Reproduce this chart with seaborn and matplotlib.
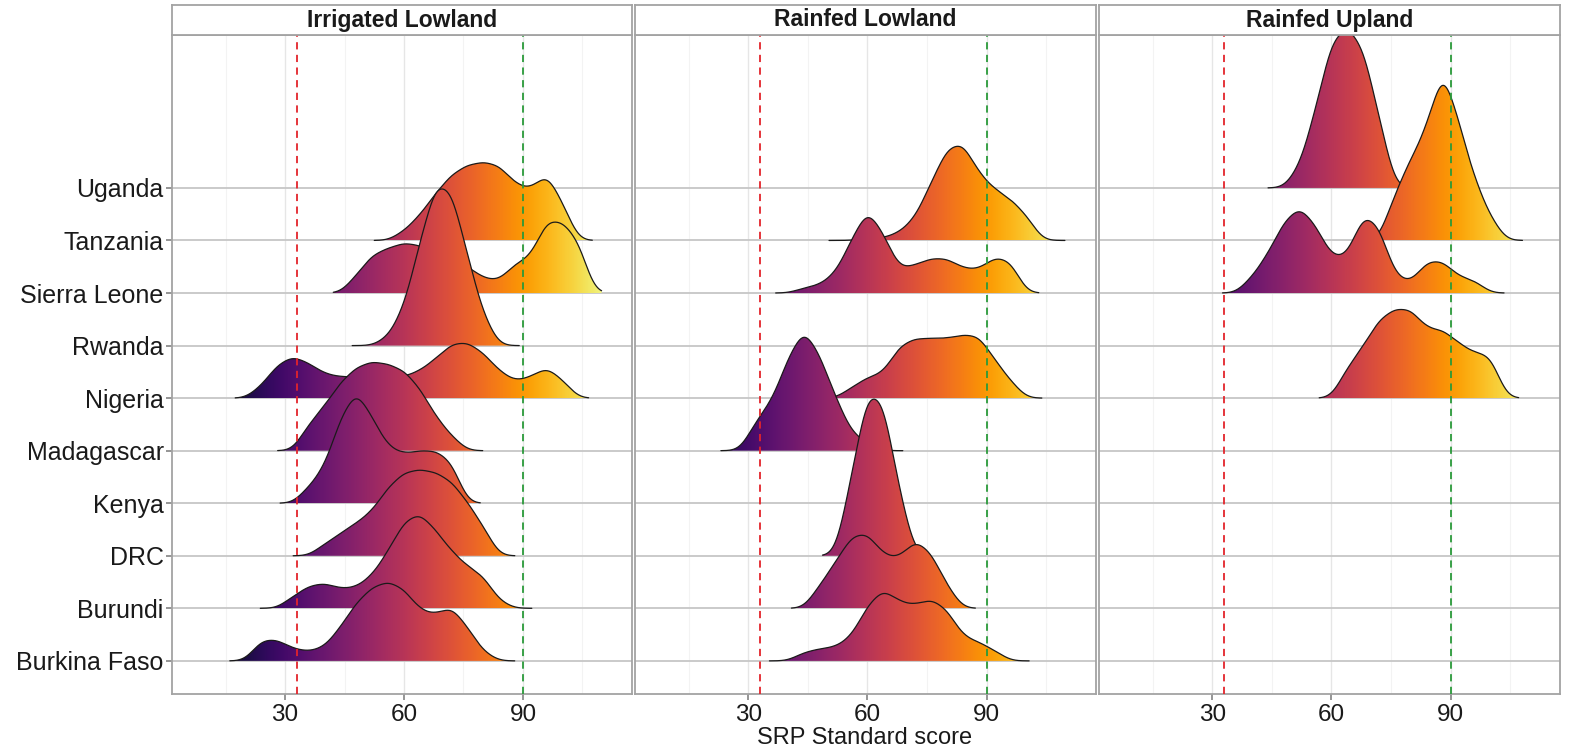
import numpy as np
import matplotlib
matplotlib.use('Agg')
import matplotlib.pyplot as plt
from matplotlib.colors import Normalize
import seaborn as sns

sns.set_theme(style='white')
plt.rcParams['font.family'] = ['Liberation Sans', 'DejaVu Sans']

# countries, bottom to top
countries = ['Burkina Faso', 'Burundi', 'DRC', 'Kenya', 'Madagascar',
             'Nigeria', 'Rwanda', 'Sierra Leone', 'Tanzania', 'Uganda']
panels = ['Irrigated Lowland', 'Rainfed Lowland', 'Rainfed Upland']

# SRP scores (binned) and counts read off the ridges
# --- Irrigated Lowland
il_tanzania_scores = [60, 64, 68, 72, 76, 80, 84, 88, 92, 96, 100]
il_tanzania_counts = [6, 16, 30, 42, 48, 50, 48, 36, 32, 44, 24]
il_sierra_scores = [48, 52, 56, 60, 64, 68, 72, 76, 80, 84, 88, 92, 96, 100, 104]
il_sierra_counts = [12, 26, 30, 34, 32, 27, 23, 18, 10, 8, 20, 24, 50, 48, 36]
il_rwanda_scores = [56, 60, 64, 68, 72, 76, 80]
il_rwanda_counts = [5, 22, 60, 96, 92, 53, 18]
il_nigeria_scores = [24, 28, 32, 36, 40, 44, 48, 52, 56, 60, 64, 68, 72, 76, 80, 84, 88, 92, 96, 100]
il_nigeria_counts = [8, 22, 28, 23, 16, 14, 14, 14, 14, 14, 18, 26, 36, 37, 30, 18, 11, 14, 21, 12]
il_madagascar_scores = [36, 40, 44, 48, 52, 56, 60, 64, 68, 72]
il_madagascar_counts = [18, 30, 46, 56, 60, 58, 54, 42, 23, 10]
il_kenya_scores = [36, 40, 44, 48, 52, 56, 60, 64, 68, 72]
il_kenya_counts = [10, 22, 52, 70, 52, 34, 30, 32, 32, 26]
il_drc_scores = [40, 44, 48, 52, 56, 60, 64, 68, 72, 76, 80]
il_drc_counts = [8, 15, 22, 30, 46, 56, 58, 56, 50, 36, 20]
il_burundi_scores = [32, 36, 40, 44, 48, 52, 56, 60, 64, 68, 72, 76, 80, 84]
il_burundi_counts = [8, 15, 17, 13, 14, 22, 38, 58, 64, 52, 38, 28, 22, 5]
il_burkina_scores = [24, 28, 32, 36, 40, 44, 48, 52, 56, 60, 64, 68, 72, 76, 80]
il_burkina_counts = [14, 14, 8, 6, 9, 22, 38, 48, 52, 47, 33, 30, 36, 22, 6]

# --- Rainfed Lowland
rl_tanzania_scores = [60, 64, 68, 72, 76, 80, 84, 88, 92, 96, 100]
rl_tanzania_counts = [1.5, 1.5, 5, 14, 36, 58, 62, 42, 32, 26, 16]
rl_sierra_scores = [44, 48, 52, 56, 60, 64, 68, 72, 76, 80, 84, 88, 92, 96]
rl_sierra_counts = [3, 5, 12, 32, 52, 36, 14, 17, 21, 21, 15, 14, 22, 20]
rl_nigeria_scores = [56, 60, 64, 68, 72, 76, 80, 84, 88, 92, 96]
rl_nigeria_counts = [6, 12, 14, 30, 34, 34, 34, 36, 36, 22, 10]
rl_madagascar_scores = [32, 36, 40, 44, 48, 52, 56, 60]
rl_madagascar_counts = [17, 28, 52, 70, 54, 30, 10, 4]
rl_drc_scores = [56, 60, 64, 68]
rl_drc_counts = [44, 92, 87, 36]
rl_burundi_scores = [48, 52, 56, 60, 64, 68, 72, 76, 80]
rl_burundi_counts = [14, 28, 44, 46, 32, 30, 42, 34, 14]
rl_burkina_scores = [44, 48, 52, 56, 60, 64, 68, 72, 76, 80, 84, 88, 92]
rl_burkina_counts = [5, 7, 8, 14, 32, 42, 34, 32, 36, 30, 14, 11, 6]

# --- Rainfed Upland
ru_uganda_scores = [52, 56, 60, 64, 68, 72]
ru_uganda_counts = [12, 44, 84, 92, 80, 40]
ru_tanzania_scores = [76, 80, 84, 88, 92, 96, 100]
ru_tanzania_counts = [28, 48, 66, 104, 70, 36, 14]
ru_sierra_scores = [40, 44, 48, 52, 56, 60, 64, 68, 72, 76, 80, 84, 88, 92, 96]
ru_sierra_counts = [10, 24, 44, 54, 42, 22, 22, 50, 42, 10, 6, 20, 20, 10, 8]
ru_nigeria_scores = [64, 68, 72, 76, 80, 84, 88, 92, 96, 100]
ru_nigeria_counts = [18, 30, 46, 52, 52, 40, 40, 32, 26, 26]

ridges = {
    'Irrigated Lowland': [
        ('Tanzania', il_tanzania_scores, il_tanzania_counts),
        ('Sierra Leone', il_sierra_scores, il_sierra_counts),
        ('Rwanda', il_rwanda_scores, il_rwanda_counts),
        ('Nigeria', il_nigeria_scores, il_nigeria_counts),
        ('Madagascar', il_madagascar_scores, il_madagascar_counts),
        ('Kenya', il_kenya_scores, il_kenya_counts),
        ('DRC', il_drc_scores, il_drc_counts),
        ('Burundi', il_burundi_scores, il_burundi_counts),
        ('Burkina Faso', il_burkina_scores, il_burkina_counts),
    ],
    'Rainfed Lowland': [
        ('Tanzania', rl_tanzania_scores, rl_tanzania_counts),
        ('Sierra Leone', rl_sierra_scores, rl_sierra_counts),
        ('Nigeria', rl_nigeria_scores, rl_nigeria_counts),
        ('Madagascar', rl_madagascar_scores, rl_madagascar_counts),
        ('DRC', rl_drc_scores, rl_drc_counts),
        ('Burundi', rl_burundi_scores, rl_burundi_counts),
        ('Burkina Faso', rl_burkina_scores, rl_burkina_counts),
    ],
    'Rainfed Upland': [
        ('Uganda', ru_uganda_scores, ru_uganda_counts),
        ('Tanzania', ru_tanzania_scores, ru_tanzania_counts),
        ('Sierra Leone', ru_sierra_scores, ru_sierra_counts),
        ('Nigeria', ru_nigeria_scores, ru_nigeria_counts),
    ],
}

low_cut, high_cut = 33, 90
BW = 2.5        # kernel sd in score units
SCALE = 2.98    # tallest ridge in a panel, in rows


def kde_curve(scores, counts):
    # let seaborn do the density, on a throwaway axes
    sd = np.sqrt(np.cov(scores, aweights=counts))
    tmp_fig, tmp_ax = plt.subplots()
    sns.kdeplot(x=scores, weights=counts, bw_method=BW / sd, cut=2.5,
                gridsize=800, ax=tmp_ax)
    xs, ys = tmp_ax.lines[0].get_data()
    plt.close(tmp_fig)
    return np.asarray(xs), np.asarray(ys)


W, H = 1573, 749
fig = plt.figure(figsize=(W / 100, H / 100), dpi=100)
lefts = [172, 635, 1099]
widths = [460, 461, 461]
ax_bottom, ax_top, strip_top = 694, 35, 5
border = '#a3a3a3'

norm = Normalize(8, 114)
grad_x = np.linspace(0, 120, 600)[np.newaxis, :]

for i, panel in enumerate(panels):
    l, w = lefts[i] / W, widths[i] / W
    ax = fig.add_axes([l, 1 - ax_bottom / H, w, (ax_bottom - ax_top) / H])
    sax = fig.add_axes([l, 1 - ax_top / H, w, (ax_top - strip_top) / H])

    curves = [(c, *kde_curve(s, n)) for c, s, n in ridges[panel]]
    dmax = max(y.max() for _, _, y in curves)
    # top rows first so lower ridges sit on top
    curves.sort(key=lambda r: -countries.index(r[0]))
    for k, (country, xs, ys) in enumerate(curves):
        base = countries.index(country) + 1
        top = base + ys / dmax * SCALE
        z = 3 + k
        poly = ax.fill_between(xs, base, top, facecolor='none',
                               edgecolor='none', zorder=z)
        img = ax.imshow(grad_x, extent=(0, 120, base, base + 3.2),
                        cmap='inferno', norm=norm, aspect='auto',
                        origin='lower', zorder=z, interpolation='bilinear')
        img.set_clip_path(poly.get_paths()[0], transform=ax.transData)
        ax.plot(xs, top, color='#1a1a1a', lw=0.9, zorder=z + 0.5)

    ax.axvline(low_cut, color='#e3242b', lw=1.3, ls=(0, (4, 3)), zorder=100)
    ax.axvline(high_cut, color='#2a9a3a', lw=1.3, ls=(0, (4, 3)), zorder=100)

    ax.set_xlim(1.5, 117.5)
    ax.set_ylim(0.37, 12.91)
    ax.set_xticks([30, 60, 90])
    ax.set_xticks([15, 45, 75, 105], minor=True)
    ax.set_yticks(range(1, 11))
    ax.set_yticklabels(countries if i == 0 else [])
    ax.grid(True, which='major', axis='x', color='#e6e6e6', lw=1.0)
    ax.grid(True, which='minor', axis='x', color='#f3f3f3', lw=0.8)
    ax.grid(True, which='major', axis='y', color='#c6c6c6', lw=1.3)
    ax.set_axisbelow(True)
    ax.tick_params(axis='x', which='major', bottom=True, length=4,
                   color='#888888', labelsize=17.5, pad=3, labelcolor='#1a1a1a')
    ax.tick_params(axis='x', which='minor', bottom=False, length=0)
    ax.tick_params(axis='y', left=(i == 0), length=4, color='#888888',
                   labelsize=18, pad=2, labelcolor='#1a1a1a')
    ax.set_xlabel('')
    ax.set_ylabel('')
    for sp in ax.spines.values():
        sp.set_color(border)
        sp.set_linewidth(1.3)

    sax.set_xticks([])
    sax.set_yticks([])
    sax.set_facecolor('white')
    for sp in sax.spines.values():
        sp.set_color(border)
        sp.set_linewidth(1.3)
    sax.text(0.5, 0.5, panel, ha='center', va='center', fontsize=16.5,
             fontweight='bold', color='#1a1a1a', transform=sax.transAxes)

fig.text(865 / W, 1 - 738 / H, 'SRP Standard score', ha='center',
         va='center', fontsize=17, color='#1a1a1a')

fig.savefig('out.png', dpi=100)
